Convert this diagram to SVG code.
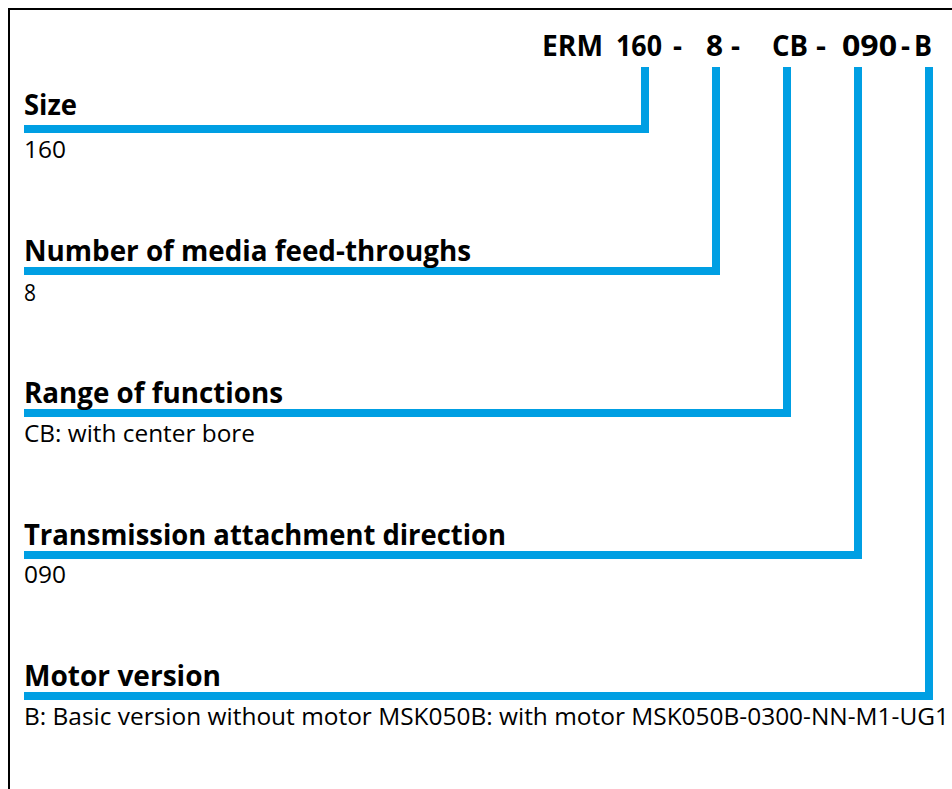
<svg xmlns="http://www.w3.org/2000/svg" width="952" height="789" viewBox="0 0 952 789">
<style>
.h{font-family:"Open Sans","Noto Sans","Liberation Sans",sans-serif;font-weight:700;font-size:28px;fill:#000}
.b{font-family:"Open Sans","Noto Sans","Liberation Sans",sans-serif;font-weight:400;font-size:23px;fill:#000}
.c{fill:none;stroke:#009FE3;stroke-width:8;stroke-linejoin:miter;stroke-linecap:butt}
</style>
<rect x="0" y="0" width="952" height="789" fill="#fff"/>
<rect x="9" y="9" width="1000" height="1000" fill="none" stroke="#000" stroke-width="2"/>
<g id="code">
<text class="h" x="542" y="56" textLength="61" lengthAdjust="spacingAndGlyphs">ERM</text>
<text class="h" x="616" y="56" textLength="46" lengthAdjust="spacingAndGlyphs">160</text>
<text class="h" x="673" y="56" textLength="9" lengthAdjust="spacingAndGlyphs">-</text>
<text class="h" x="706" y="56" textLength="17" lengthAdjust="spacingAndGlyphs">8</text>
<text class="h" x="731" y="56" textLength="9" lengthAdjust="spacingAndGlyphs">-</text>
<text class="h" x="772" y="56" textLength="36" lengthAdjust="spacingAndGlyphs">CB</text>
<text class="h" x="816" y="56" textLength="10" lengthAdjust="spacingAndGlyphs">-</text>
<text class="h" x="842" y="56" textLength="55" lengthAdjust="spacingAndGlyphs">090</text>
<text class="h" x="901" y="56" textLength="9" lengthAdjust="spacingAndGlyphs">-</text>
<text class="h" x="914" y="56" textLength="18" lengthAdjust="spacingAndGlyphs">B</text>
</g>
<g id="connectors">
<path class="c" d="M24 129 H645 V67"/>
<path class="c" d="M24 271 H716 V67"/>
<path class="c" d="M24 413 H787 V67"/>
<path class="c" d="M24 555 H858 V67"/>
<path class="c" d="M24 696 H929 V67"/>
</g>
<g id="size">
<text class="h" x="24" y="115" textLength="53" lengthAdjust="spacingAndGlyphs">Size</text>
<text class="b" x="24" y="157.5" textLength="42" lengthAdjust="spacingAndGlyphs">160</text>
</g>
<g id="feedthroughs">
<text class="h" x="24" y="260.5" textLength="447" lengthAdjust="spacingAndGlyphs">Number of media feed-throughs</text>
<text class="b" x="24" y="301" textLength="12" lengthAdjust="spacingAndGlyphs">8</text>
</g>
<g id="functions">
<text class="h" x="24" y="402.5" textLength="259" lengthAdjust="spacingAndGlyphs">Range of functions</text>
<text class="b" x="24" y="442" textLength="231" lengthAdjust="spacingAndGlyphs">CB: with center bore</text>
</g>
<g id="direction">
<text class="h" x="24" y="545" textLength="482" lengthAdjust="spacingAndGlyphs">Transmission attachment direction</text>
<text class="b" x="24" y="583" textLength="42" lengthAdjust="spacingAndGlyphs">090</text>
</g>
<g id="motor">
<text class="h" x="24" y="685.5" textLength="197" lengthAdjust="spacingAndGlyphs">Motor version</text>
<text class="b" x="24" y="725" textLength="925" lengthAdjust="spacingAndGlyphs">B: Basic version without motor MSK050B: with motor MSK050B-0300-NN-M1-UG1</text>
</g>
</svg>
